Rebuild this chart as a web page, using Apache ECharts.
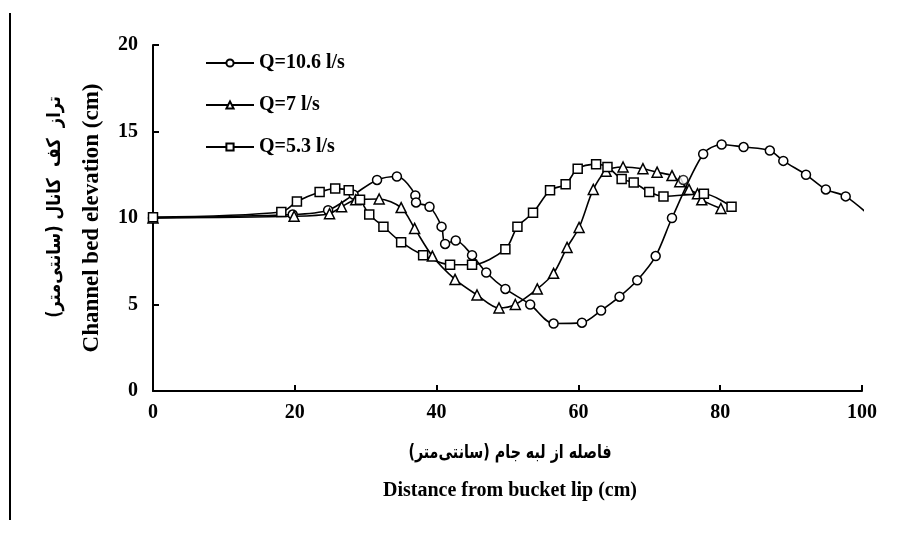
<!DOCTYPE html>
<html>
<head>
<meta charset="utf-8">
<script src="https://cdn.jsdelivr.net/npm/echarts@6/dist/echarts.min.js"></script>
<style>
  html, body { margin: 0; padding: 0; background: #fff; }
  #chart { width: 901px; height: 535px; }
</style>
</head>
<body>
<div id="chart"></div>
<script>
// Bed profile measurements: distance from bucket lip (cm) vs. channel bed elevation (cm)
const seriesNames = ['Q=10.6 l/s', 'Q=7 l/s', 'Q=5.3 l/s'];

const xQ106 = [0, 19.7, 24.7, 28.3, 31.6, 34.4, 37.0, 37.1, 39.0, 40.7, 41.2, 42.7, 45.0, 47.0, 49.7, 53.2, 56.5, 60.5, 63.2, 65.8, 68.3, 70.9, 73.2, 77.6, 80.2, 83.3, 87.0, 88.9, 92.1, 94.9, 97.7, 102.0];
const yQ106 = [10.0, 10.2, 10.45, 11.35, 12.2, 12.4, 11.3, 10.9, 10.65, 9.5, 8.5, 8.7, 7.85, 6.85, 5.9, 5.0, 3.9, 3.95, 4.65, 5.45, 6.4, 7.8, 10.0, 13.7, 14.25, 14.1, 13.9, 13.3, 12.5, 11.65, 11.25, 9.8];

// single extra reading for Q=10.6 l/s, plotted without a connecting line
const xQ106Extra = [74.8];
const yQ106Extra = [12.2];

const xQ7 = [0, 19.9, 24.9, 26.6, 28.6, 31.9, 35.0, 36.9, 39.4, 42.6, 45.7, 48.8, 51.1, 54.2, 56.5, 58.4, 60.1, 62.1, 63.9, 66.3, 69.1, 71.1, 73.2, 74.3, 75.6, 76.8, 77.4, 80.1];
const yQ7 = [10.0, 10.1, 10.25, 10.65, 11.05, 11.1, 10.6, 9.4, 7.8, 6.45, 5.55, 4.8, 5.0, 5.9, 6.8, 8.3, 9.45, 11.65, 12.7, 12.95, 12.85, 12.65, 12.45, 12.1, 11.65, 11.4, 11.05, 10.55];

const xQ53 = [0, 18.1, 20.3, 23.5, 25.7, 27.6, 29.2, 30.5, 32.5, 35.0, 38.1, 41.9, 45.0, 49.7, 51.4, 53.6, 56.0, 58.2, 59.9, 62.5, 64.1, 66.1, 67.8, 70.0, 72.0, 77.7, 81.6];
const yQ53 = [10.05, 10.35, 10.95, 11.5, 11.7, 11.6, 11.05, 10.2, 9.5, 8.6, 7.85, 7.3, 7.3, 8.2, 9.5, 10.3, 11.6, 11.95, 12.85, 13.1, 12.95, 12.25, 12.05, 11.5, 11.25, 11.4, 10.65];

const xTicks = [0, 20, 40, 60, 80, 100];
const yTicks = [0, 5, 10, 15, 20];

function pairs(xs, ys) { return xs.map((x, i) => [x, ys[i]]); }

const serif = 'Liberation Serif, Times New Roman, serif';
const persian = 'DejaVu Sans, sans-serif';

const chart = echarts.init(document.getElementById('chart'), null, { renderer: 'canvas' });

function lineSeries(name, symbol, size, data) {
  return {
    name: name,
    type: 'line',
    data: data,
    smooth: 0.3,
    symbol: symbol,
    symbolSize: size,
    showAllSymbol: true,
    clip: true,
    lineStyle: { color: '#000', width: 1.6 },
    itemStyle: { color: '#fff', borderColor: '#000', borderWidth: 1.5 },
    emphasis: { disabled: true },
    animation: false
  };
}

chart.setOption({
  backgroundColor: '#fff',
  animation: false,
  grid: { left: 153, right: 39, top: 45, bottom: 144 },
  legend: {
    data: seriesNames,
    orient: 'vertical',
    left: 200,
    top: 48,
    itemWidth: 48,
    itemHeight: 9,
    itemGap: 22,
    textStyle: { fontFamily: serif, fontWeight: 'bold', fontSize: 20, color: '#000' },
    selectedMode: false
  },
  xAxis: {
    type: 'value',
    min: xTicks[0],
    max: xTicks[xTicks.length - 1],
    interval: 20,
    axisLine: { show: true, lineStyle: { color: '#000', width: 2 } },
    axisTick: { show: true, inside: true, length: 6, lineStyle: { color: '#000', width: 2 } },
    axisLabel: { color: '#000', fontFamily: serif, fontWeight: 'bold', fontSize: 20, margin: 12 },
    splitLine: { show: false }
  },
  yAxis: {
    type: 'value',
    min: yTicks[0],
    max: yTicks[yTicks.length - 1],
    interval: 5,
    axisLine: { show: true, lineStyle: { color: '#000', width: 2 } },
    axisTick: { show: true, inside: true, length: 6, lineStyle: { color: '#000', width: 2 } },
    axisLabel: { color: '#000', fontFamily: serif, fontWeight: 'bold', fontSize: 20, margin: 15 },
    splitLine: { show: false }
  },
  series: [
    lineSeries(seriesNames[0], 'circle', 9, pairs(xQ106, yQ106)),
    lineSeries(seriesNames[1], 'triangle', 10, pairs(xQ7, yQ7)),
    lineSeries(seriesNames[2], 'rect', 9, pairs(xQ53, yQ53)),
    {
      type: 'scatter',
      data: pairs(xQ106Extra, yQ106Extra),
      symbol: 'circle',
      symbolSize: 9,
      itemStyle: { color: '#fff', borderColor: '#000', borderWidth: 1.5 },
      emphasis: { disabled: true },
      z: 3
    }
  ],
  graphic: [
    // left frame rule
    { type: 'line', shape: { x1: 10, y1: 13, x2: 10, y2: 520 }, style: { stroke: '#000', lineWidth: 2 } },
    // y-axis titles
    {
      type: 'text', x: 55, y: 207, rotation: Math.PI / 2, scaleX: 0.85,
      style: { text: 'تراز  کف  کانال (سانتی‌متر)', font: 'bold 19px ' + persian, fill: '#000', align: 'center', verticalAlign: 'middle' }
    },
    {
      type: 'text', x: 92, y: 218, rotation: Math.PI / 2,
      style: { text: 'Channel bed elevation (cm)', font: 'bold 23px ' + serif, fill: '#000', align: 'center', verticalAlign: 'middle' }
    },
    // x-axis titles
    {
      type: 'text', x: 510, y: 453, scaleX: 0.75,
      style: { text: 'فاصله از لبه جام (سانتی‌متر)', font: 'bold 19px ' + persian, fill: '#000', align: 'center', verticalAlign: 'middle' }
    },
    {
      type: 'text', x: 510, y: 491,
      style: { text: 'Distance from bucket lip (cm)', font: 'bold 20px ' + serif, fill: '#000', align: 'center', verticalAlign: 'middle' }
    }
  ]
});
</script>
</body>
</html>
